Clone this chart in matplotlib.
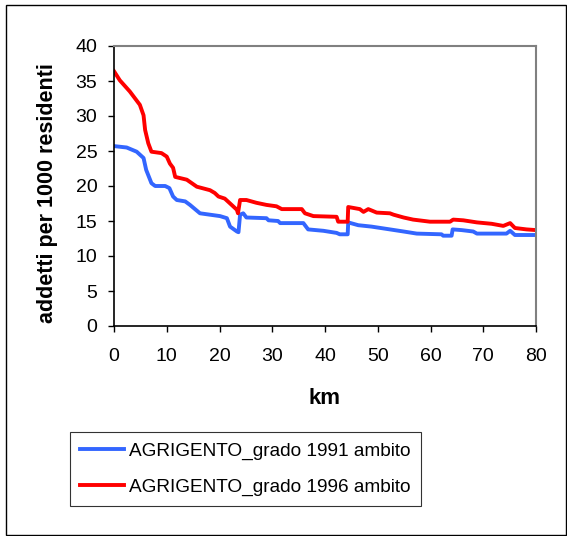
import matplotlib.pyplot as plt
from matplotlib.patches import Rectangle

# distance (km) and employees per 1000 residents
km_1991 = [0, 2.4, 4.3, 5.6, 6.1, 7.1, 7.8, 9.7, 10.5, 11.2, 11.9, 13.5, 14.4,
           16.3, 18.2, 20.1, 21.4, 22.0, 23.3, 23.6, 23.9, 24.5, 25.1, 28.9,
           29.3, 31.1, 31.5, 35.9, 36.8, 39.7, 42.2, 42.8, 44.3, 44.4, 46.3,
           48.8, 52.3, 54.9, 57.4, 62.1, 62.4, 64.0, 64.2, 65.9, 68.1, 68.8,
           74.4, 75.1, 76.0, 80.0]
val_1991 = [25.7, 25.5, 24.9, 24.0, 22.3, 20.4, 20.0, 20.0, 19.7, 18.5, 18.0,
            17.8, 17.3, 16.1, 15.9, 15.7, 15.4, 14.2, 13.5, 13.4, 15.9, 16.1,
            15.5, 15.4, 15.1, 15.0, 14.7, 14.7, 13.8, 13.6, 13.3, 13.1, 13.1,
            14.8, 14.4, 14.2, 13.8, 13.5, 13.2, 13.1, 12.9, 12.9, 13.8, 13.7,
            13.5, 13.2, 13.2, 13.6, 13.0, 13.0]

km_1996 = [0, 1.1, 3.0, 4.9, 5.6, 5.9, 6.5, 7.1, 9.0, 10.0, 10.6, 11.2, 11.6,
           13.8, 15.7, 18.2, 19.1, 19.8, 21.0, 22.3, 23.3, 23.5, 23.9, 25.1,
           27.0, 28.9, 30.8, 31.8, 35.6, 36.2, 37.8, 42.2, 42.5, 44.3, 44.4,
           46.6, 47.3, 48.2, 49.8, 52.3, 53.0, 54.9, 56.7, 59.9, 63.7, 64.3,
           66.2, 68.8, 71.6, 73.8, 75.1, 76.0, 78.2, 80.0]
val_1996 = [36.4, 35.1, 33.5, 31.6, 30.1, 28.0, 26.1, 24.9, 24.7, 24.2, 23.2,
            22.6, 21.3, 20.9, 19.9, 19.4, 19.0, 18.5, 18.2, 17.3, 16.6, 16.1,
            18.0, 18.0, 17.6, 17.3, 17.1, 16.7, 16.7, 16.1, 15.7, 15.6, 14.9,
            14.9, 17.0, 16.7, 16.3, 16.7, 16.2, 16.1, 15.9, 15.5, 15.2, 14.9,
            14.9, 15.2, 15.1, 14.8, 14.6, 14.3, 14.7, 14.0, 13.8, 13.7]

plt.rcParams['font.family'] = ['Liberation Sans', 'DejaVu Sans']

fig = plt.figure(figsize=(5.67, 5.36), dpi=100)
ax = fig.add_axes([114 / 567, 1 - 326 / 536, 422 / 567, 280 / 536])

ax.plot(km_1991, val_1991, color='#3366ff', lw=2.8, label='AGRIGENTO_grado 1991 ambito')
ax.plot(km_1996, val_1996, color='#ff0000', lw=2.8, label='AGRIGENTO_grado 1996 ambito')

ax.set_xlim(0, 80)
ax.set_ylim(0, 40)
ax.set_xticks(range(0, 81, 10))
ax.set_yticks(range(0, 41, 5))
ax.tick_params(direction='out', length=4, width=1, labelsize=14)
ax.tick_params(axis='x', pad=12)
ax.tick_params(axis='y', pad=8)
for s in ['top', 'right']:
    ax.spines[s].set_color('#808080')
    ax.spines[s].set_linewidth(1.5)
for s in ['left', 'bottom']:
    ax.spines[s].set_color('black')
    ax.spines[s].set_linewidth(1.2)

ax.set_xlabel('km', fontsize=16, fontweight='bold', va='center')
ax.xaxis.set_label_coords(0.5, (326 - 398) / 280)
ax.set_ylabel('addetti per 1000 residenti', fontsize=15.5, fontweight='bold',
              va='center', ha='center')
ax.yaxis.set_label_coords((48 - 114) / 422, (326 - 193) / 280)

leg = fig.legend(loc='upper left', bbox_to_anchor=(70 / 567, 1 - 432 / 536),
                 fontsize=13.7, frameon=True, fancybox=False, edgecolor='black',
                 handlelength=2.3, handletextpad=0.25, labelspacing=0.95,
                 borderpad=0.55, borderaxespad=0)
leg.get_frame().set_linewidth(0.8)

fig.patches.append(Rectangle((6 / 567, 1 - 535 / 536), 560 / 567, 530 / 536,
                             transform=fig.transFigure, fill=False,
                             edgecolor='black', lw=1))

plt.savefig('out.png', dpi=100)
